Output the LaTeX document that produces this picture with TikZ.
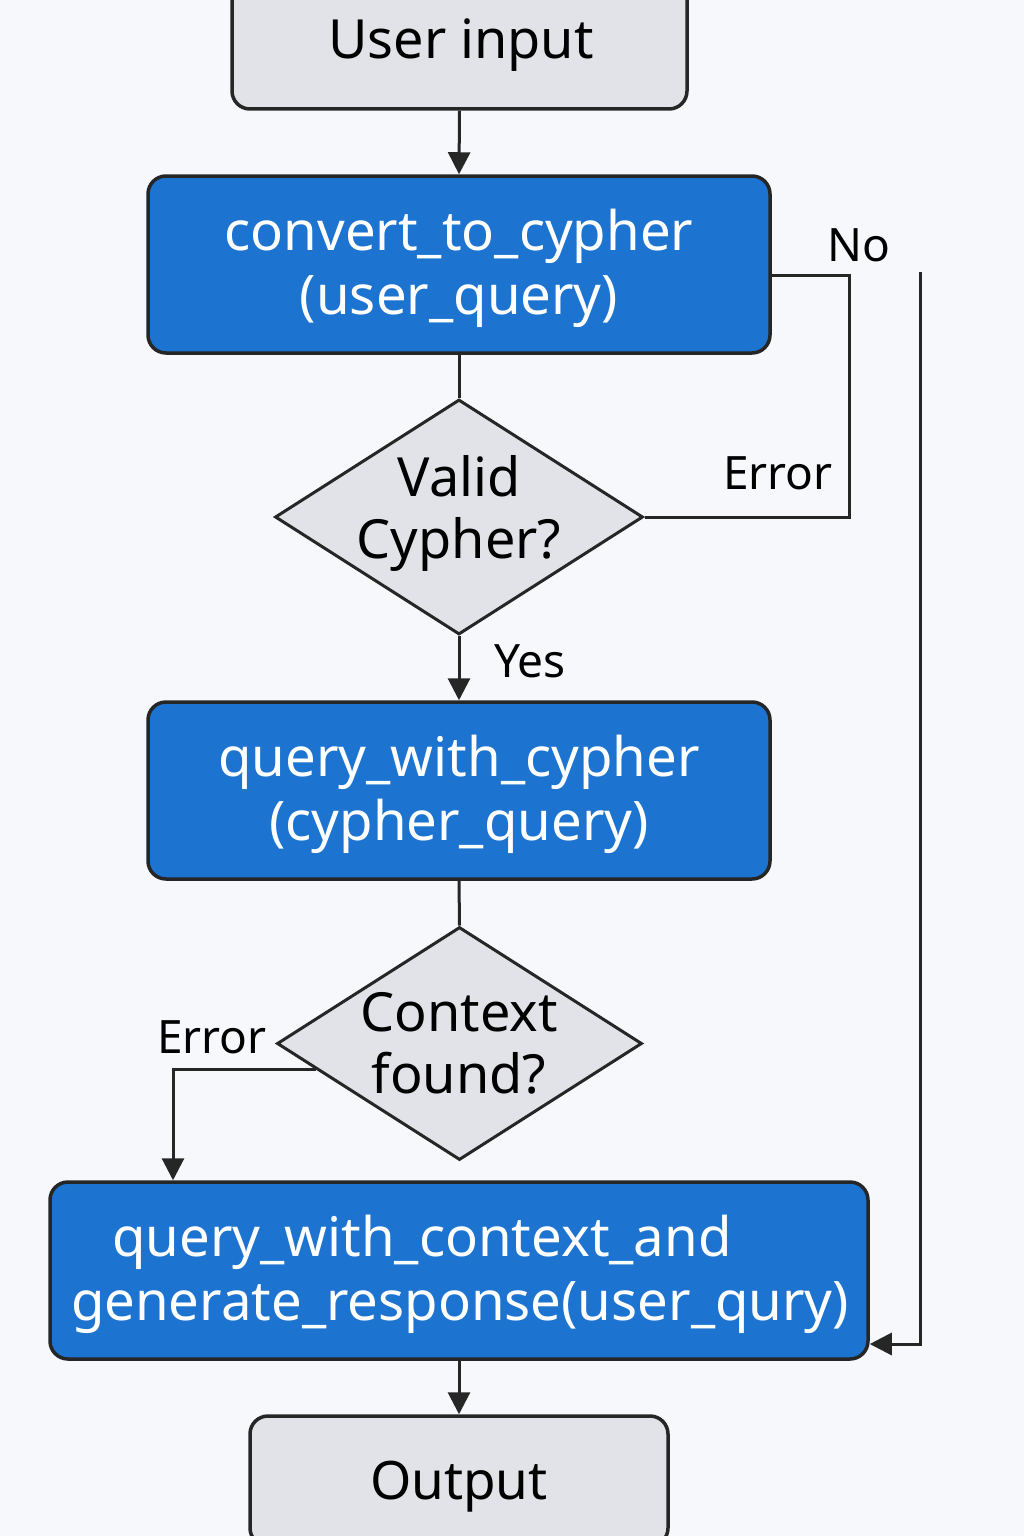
\documentclass[tikz,border=0pt]{standalone}
\usepackage{fontspec}
\setmainfont{Noto Sans}
\usetikzlibrary{shapes.geometric,arrows.meta,calc}
\definecolor{bg}{HTML}{F7F8FB}
\definecolor{boxgray}{HTML}{E1E3E8}
\definecolor{boxblue}{HTML}{1C74D0}
\definecolor{edgec}{HTML}{262626}
\begin{document}
\begin{tikzpicture}[x=1pt,y=-1pt,
  graybox/.style={draw=edgec,line width=3.5pt,fill=boxgray,rounded corners=18pt,
    font=\fontsize{54}{64}\selectfont,text=black,inner sep=0pt},
  bluebox/.style={draw=edgec,line width=3.5pt,fill=boxblue,rounded corners=18pt,
    font=\fontsize{54.5}{64}\selectfont,text=white,align=center,inner sep=0pt},
  decision/.style={draw=edgec,line width=3pt,fill=boxgray,diamond,inner sep=0pt},
  dtext/.style={font=\fontsize{54}{62}\selectfont,align=center,text=black,inner sep=0pt},
  lbl/.style={font=\fontsize{46}{50}\selectfont,text=black,inner sep=0pt},
  conn/.style={draw=edgec,line width=3pt},
  arr/.style={conn,-{Triangle[length=22pt,width=22pt]}}]
\useasboundingbox (0,0) rectangle (1024,1536);
\fill[bg] (0,0) rectangle (1024,1536);

\node[graybox,minimum width=455pt,minimum height=139pt] (ui) at (459.5,39.5) {};
\node (uit) at (461,45) [font=\fontsize{54}{64}\selectfont,inner sep=0pt] {User input};
\node[bluebox,minimum width=622pt,minimum height=177pt] (b1) at (459,264.5) {};
\node (b1t) at (459,268.5) [font=\fontsize{54.5}{64}\selectfont,text=white,align=center,inner sep=0pt] {convert\_to\_cypher\\(user\_query)};
\node[decision,minimum width=368pt,minimum height=235pt] (d1) at (459,517) {};
\node[dtext] (d1t) at (459,513) {Valid\\Cypher?};
\node[bluebox,minimum width=622pt,minimum height=177pt] (b2) at (459,790.5) {};
\node (b2t) at (459,794.5) [font=\fontsize{54.5}{64}\selectfont,text=white,align=center,inner sep=0pt] {query\_with\_cypher\\(cypher\_query)};
\node[decision,minimum width=365pt,minimum height=233pt] (d2) at (459.5,1043.5) {};
\node[dtext] (d2t) at (459,1043) {Context\\found?};
\node[bluebox,minimum width=818pt,minimum height=177pt] (b3) at (459,1270.5) {};
\node (b3t) at (460,1274.5) [font=\fontsize{54.5}{64}\selectfont,text=white,align=center,inner sep=0pt] {query\_with\_context\_and\hspace*{76pt}\\generate\_response(user\_qury)};
\node[graybox,minimum width=418pt,minimum height=130pt] (out) at (459,1481) {};
\node (outt) at (459,1487) [font=\fontsize{53}{64}\selectfont,inner sep=0pt] {Output};

\node[lbl] (lerr1) at (778,473) {Error};
\node[lbl] (lno) at (859,245) {No};
\node[lbl] (lyes) at (530,661) {Yes};
\node[lbl] (lerr2) at (212,1037) {Error};

\coordinate (errc) at (849,275);
\coordinate (nostart) at (920,272);
\coordinate (noturn) at (920,1344);

\draw[arr] (ui.south) -- (b1.north);
\draw[conn] (b1.south) -- (d1.north);
\draw[conn] (d1.east) -| (errc) -- (errc -| b1.east);
\draw[arr] (d1.south) -- (b2.north);
\draw[conn] (b2.south) -- (d2.north);
\draw[arr] ($(d2.west)!0.22!(d2.south)$) -| ([xshift=-286pt]b3.north);
\draw[arr] (nostart) -- (noturn) -- (noturn -| b3.east);
\draw[arr] (b3.south) -- (out.north);
\end{tikzpicture}
\end{document}
